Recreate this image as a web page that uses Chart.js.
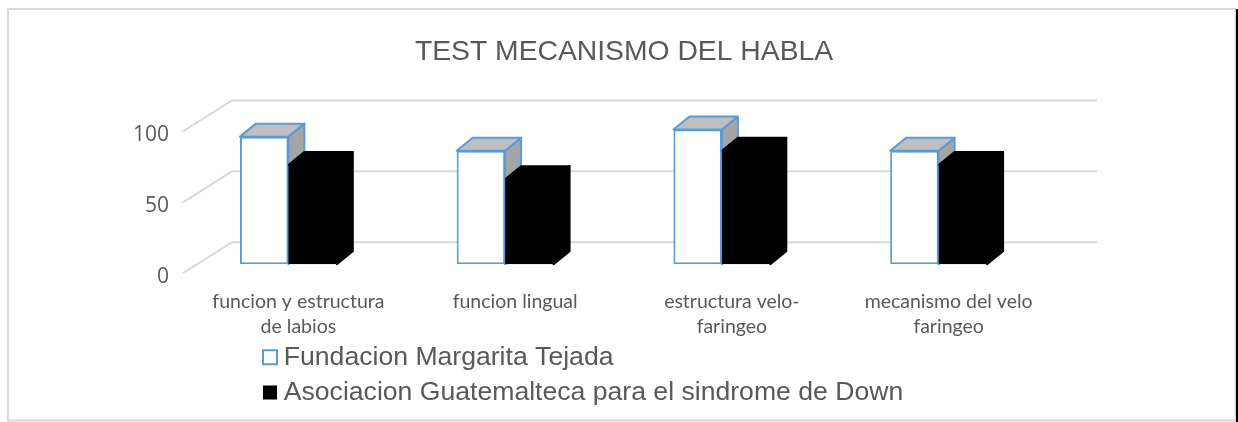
<!DOCTYPE html>
<html>
<head>
<meta charset="utf-8">
<script src="https://cdn.jsdelivr.net/npm/chart.js@4"></script>
<style>
  body { margin: 0; background: #fff; }
  canvas { display: block; }
</style>
</head>
<body>
<canvas id="chart" width="1238" height="422"></canvas>
<script>
const categories = [
    ["funcion y estructura", "de labios"],
    "funcion lingual",
    ["estructura velo-", "faringeo"],
    ["mecanismo del velo", "faringeo"],
];
const seriesNames = ["Fundacion Margarita Tejada", "Asociacion Guatemalteca para el sindrome de Down"];
const fundacionValues = [90, 80, 95, 80];
const asociacionValues = [70, 60, 80, 70];
const yTicks = [0, 50, 100];

const BAR_DEPTH = { x: 16, y: 13 };
const FLOOR = { x: 49, y: 31 };

// frame, back wall and the side/top faces of the bars
const depthPlugin = {
    id: "depth",
    beforeDraw(chart) {
        const ctx = chart.ctx;
        ctx.save();
        ctx.fillStyle = "#fff";
        ctx.fillRect(0, 0, 1238, 422);
        ctx.strokeStyle = "#d9d9d9";
        ctx.lineWidth = 2;
        ctx.strokeRect(8, 9, 1227.5, 411.5);
        ctx.strokeStyle = "#000";
        ctx.beginPath();
        ctx.moveTo(1237, 9);
        ctx.lineTo(1237, 422);
        ctx.stroke();
        ctx.restore();
    },
    beforeDatasetsDraw(chart) {
        const ctx = chart.ctx;
        const y = chart.scales.y;
        const left = chart.chartArea.left + 3;
        ctx.save();
        ctx.strokeStyle = "#d9d9d9";
        ctx.lineWidth = 2;
        yTicks.forEach((tick) => {
            const py = y.getPixelForValue(tick) - 22;
            ctx.beginPath();
            ctx.moveTo(left, py + FLOOR.y);
            ctx.lineTo(left + FLOOR.x, py);
            ctx.lineTo(1097, py);
            ctx.stroke();
        });

        // white series first so the black faces cover its side
        [0, 1].forEach((index) => drawFaces(ctx, chart.getDatasetMeta(index).data, index === 0));
        ctx.restore();
    },
};

function drawFaces(ctx, bars, isWhite) {
    const dx = BAR_DEPTH.x;
    const dy = BAR_DEPTH.y;
    ctx.lineWidth = 2;
    ctx.lineJoin = "round";
    ctx.strokeStyle = isWhite ? "#5b9bd5" : "#000";
    bars.forEach((bar) => {
        const l = bar.x - bar.width / 2;
        const r = bar.x + bar.width / 2;

        ctx.beginPath();
        ctx.moveTo(r, bar.y);
        ctx.lineTo(r + dx, bar.y - dy);
        ctx.lineTo(r + dx, bar.base - dy);
        ctx.lineTo(r, bar.base);
        ctx.closePath();
        ctx.fillStyle = isWhite ? "#a5a5a5" : "#000";
        ctx.fill();
        ctx.stroke();

        ctx.beginPath();
        ctx.moveTo(l, bar.y);
        ctx.lineTo(l + dx, bar.y - dy);
        ctx.lineTo(r + dx, bar.y - dy);
        ctx.lineTo(r, bar.y);
        ctx.closePath();
        ctx.fillStyle = isWhite ? "#bfbfbf" : "#000";
        ctx.fill();
        ctx.stroke();
    });
}

// legend sits under the axis labels, one row per series
const placePlugin = {
    id: "place",
    afterLayout(chart) {
        chart.legend.left = 261;
        chart.legend.top = 335.5;
        chart.legend.right = 1100;
        chart.legend.bottom = 415;
        chart.titleBlock.left = 10;
        chart.titleBlock.right = 1238;
    },
};

new Chart(document.getElementById("chart"), {
    type: "bar",
    data: {
        labels: categories,
        datasets: [
            {
                label: seriesNames[0],
                data: fundacionValues,
                backgroundColor: "#fff",
                borderColor: "#5b9bd5",
                borderWidth: 2,
                borderSkipped: false,
            },
            {
                label: seriesNames[1],
                data: asociacionValues,
                backgroundColor: "#000",
                borderColor: "#000",
                borderWidth: 0,
            },
        ],
    },
    plugins: [depthPlugin, placePlugin],
    options: {
        responsive: false,
        animation: false,
        categoryPercentage: 0.447,
        barPercentage: 1,
        layout: { padding: { top: 0, left: 0, right: 191, bottom: 22.7 } },
        plugins: {
            title: {
                display: true,
                text: "TEST MECANISMO DEL HABLA",
                color: "#595959",
                font: { family: "Liberation Sans", size: 28.3, weight: "normal" },
                padding: { top: 35, bottom: 53.5 },
            },
            legend: {
                position: "bottom",
                align: "start",
                labels: {
                    usePointStyle: true,
                    pointStyle: "rect",
                    boxWidth: 1,
                    boxHeight: 14,
                    padding: 8.5,
                    color: "#595959",
                    font: { family: "Liberation Sans", size: 26.6 },
                },
            },
            tooltip: { enabled: false },
        },
        scales: {
            x: {
                grid: { display: false, drawTicks: false },
                border: { display: false },
                ticks: {
                    color: "#595959",
                    font: { family: "Lato", size: 19.5, lineHeight: 1.28 },
                    maxRotation: 0,
                    autoSkip: false,
                    padding: 25,
                    labelOffset: 10,
                },
                afterFit(scale) { scale.height = 90; },
            },
            y: {
                min: 0,
                max: 100,
                grid: { display: false, drawTicks: false },
                border: { display: false },
                ticks: {
                    color: "#595959",
                    font: { family: "Open Sans", size: 21 },
                    stepSize: 50,
                    padding: 11,
                    labelOffset: 12.5,
                },
                afterFit(scale) { scale.width = 180; },
            },
        },
    },
});
</script>
</body>
</html>
